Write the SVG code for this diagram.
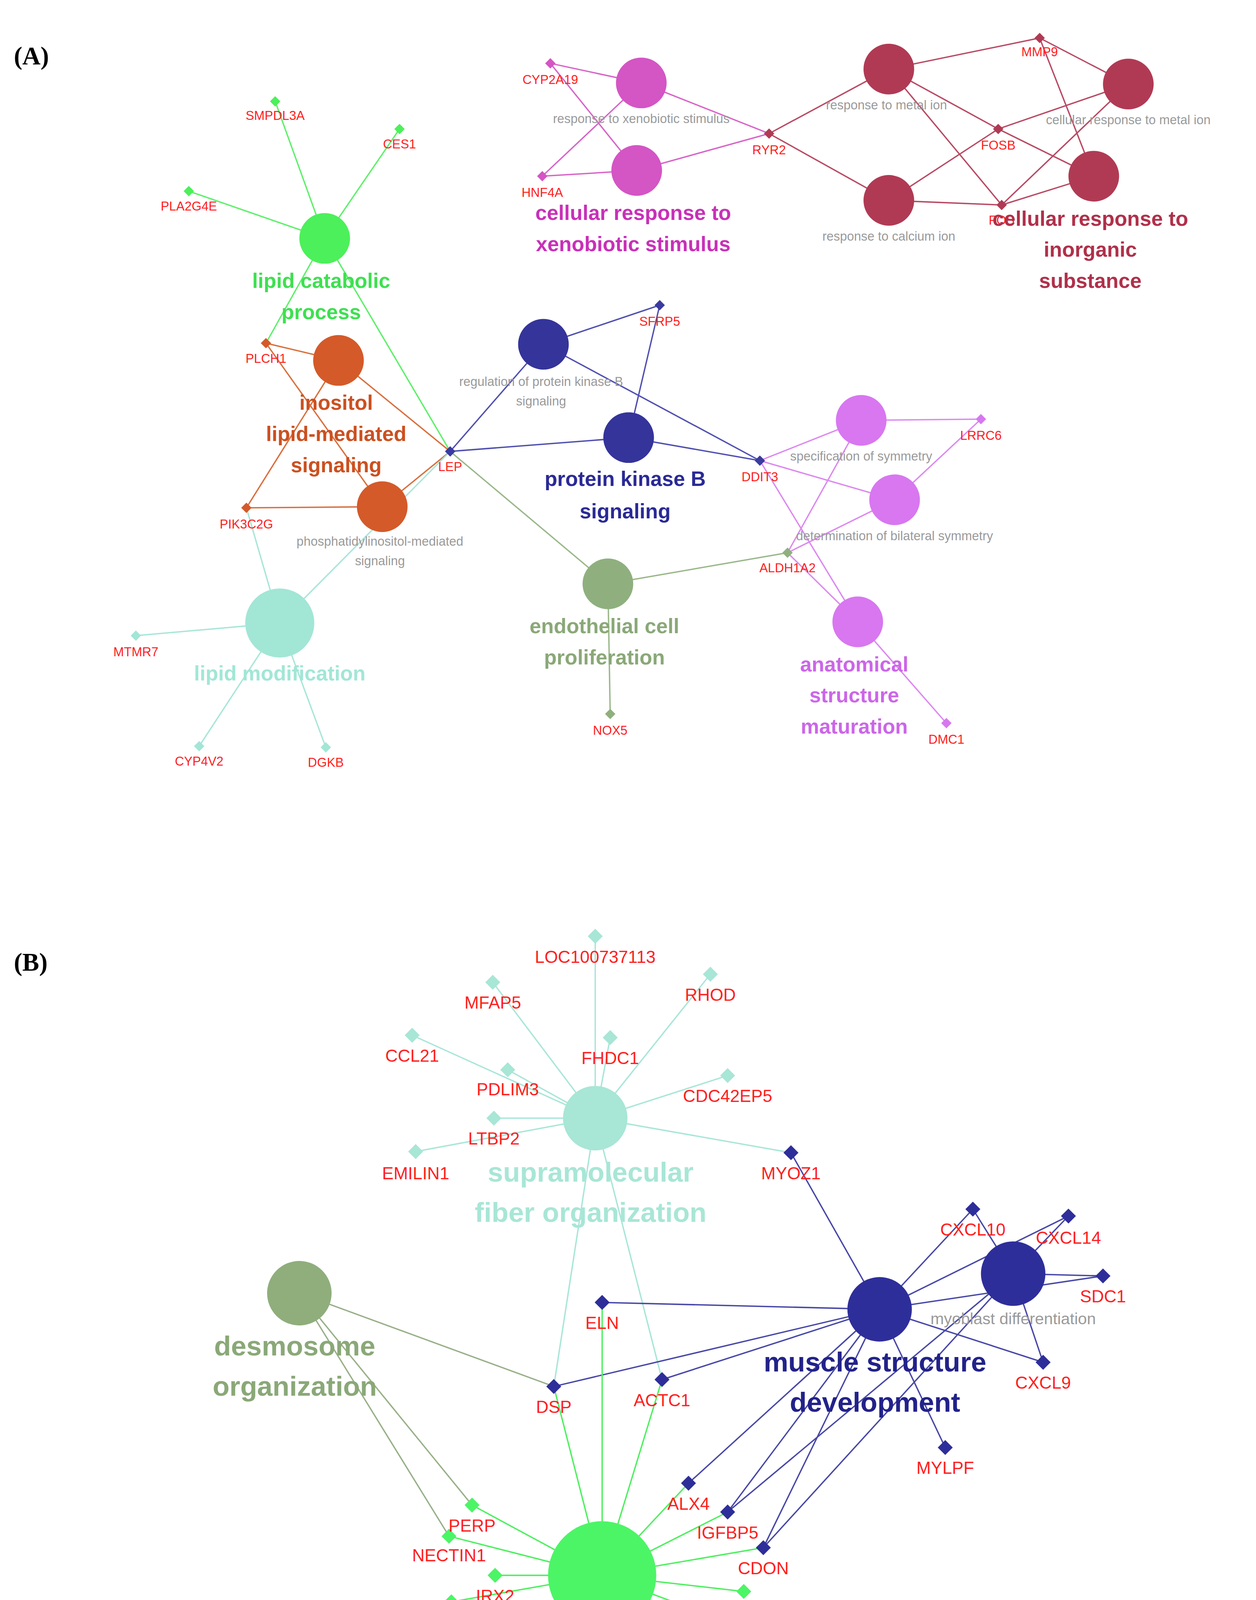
<svg xmlns="http://www.w3.org/2000/svg" xmlns:xlink="http://www.w3.org/1999/xlink" width="3216" height="4624" viewBox="0 0 3216 4624">
<style>
text{font-family:"Liberation Sans",Arial,sans-serif;text-anchor:middle}
.g{fill:#ff2020;font-size:11px}
.gb{fill:#ff2020;font-size:15px}
.s{fill:#9a9a9a;font-size:11px}
.b{font-weight:bold;font-size:18px}
.bb{font-weight:bold;font-size:24px}
.p{font-family:"Liberation Serif",serif;font-weight:bold;font-size:22px;text-anchor:start;fill:#000}
.e line{stroke-width:1.2}
</style>
<defs>
<path id="dA" d="M0,-4.5L4.5,0L0,4.5L-4.5,0Z"/>
<path id="dB" d="M0,-6.5L6.5,0L0,6.5L-6.5,0Z"/>
</defs>
<rect width="3216" height="4624" fill="#fff"/>
<g transform="scale(2.948)">
<text class="p" x="12" y="56">(A)</text>
<text class="p" x="12" y="843">(B)</text>
<g id="connectors" class="e">
<g stroke="#5ef06a"><line x1="239" y1="88" x2="282" y2="207"/><line x1="347" y1="112" x2="282" y2="207"/><line x1="164" y1="166" x2="282" y2="207"/><line x1="282" y1="207" x2="231" y2="298"/><line x1="282" y1="207" x2="391" y2="392"/></g>
<g stroke="#d9703e"><line x1="231" y1="298" x2="294" y2="313"/><line x1="231" y1="298" x2="332" y2="440"/><line x1="294" y1="313" x2="391" y2="392"/><line x1="294" y1="313" x2="214" y2="441"/><line x1="214" y1="441" x2="332" y2="440"/><line x1="332" y1="440" x2="391" y2="392"/></g>
<g stroke="#a8e6d8"><line x1="243" y1="541" x2="214" y2="441"/><line x1="243" y1="541" x2="391" y2="392"/><line x1="243" y1="541" x2="118" y2="552"/><line x1="243" y1="541" x2="173" y2="648"/><line x1="243" y1="541" x2="283" y2="649"/></g>
<g stroke="#5050b0"><line x1="391" y1="392" x2="472" y2="299"/><line x1="391" y1="392" x2="546" y2="380"/><line x1="472" y1="299" x2="573" y2="265"/><line x1="472" y1="299" x2="660" y2="400"/><line x1="546" y1="380" x2="573" y2="265"/><line x1="546" y1="380" x2="660" y2="400"/></g>
<g stroke="#9ab88a"><line x1="391" y1="392" x2="528" y2="507"/><line x1="528" y1="507" x2="684" y2="480"/><line x1="528" y1="507" x2="530" y2="620"/></g>
<g stroke="#dc8af0"><line x1="660" y1="400" x2="748" y2="365"/><line x1="660" y1="400" x2="777" y2="434"/><line x1="660" y1="400" x2="745" y2="540"/><line x1="748" y1="365" x2="852" y2="364"/><line x1="777" y1="434" x2="852" y2="364"/><line x1="684" y1="480" x2="748" y2="365"/><line x1="684" y1="480" x2="777" y2="434"/><line x1="684" y1="480" x2="745" y2="540"/><line x1="745" y1="540" x2="822" y2="628"/></g>
<g stroke="#d865c8"><line x1="478" y1="55" x2="557" y2="72"/><line x1="478" y1="55" x2="553" y2="148"/><line x1="471" y1="153" x2="557" y2="72"/><line x1="471" y1="153" x2="553" y2="148"/><line x1="557" y1="72" x2="668" y2="116"/><line x1="553" y1="148" x2="668" y2="116"/></g>
<g stroke="#b84a64"><line x1="668" y1="116" x2="772" y2="60"/><line x1="668" y1="116" x2="772" y2="174"/><line x1="772" y1="60" x2="903" y2="33"/><line x1="903" y1="33" x2="980" y2="73"/><line x1="772" y1="60" x2="867" y2="112"/><line x1="772" y1="60" x2="870" y2="178"/><line x1="772" y1="174" x2="867" y2="112"/><line x1="867" y1="112" x2="980" y2="73"/><line x1="867" y1="112" x2="950" y2="153"/><line x1="870" y1="178" x2="980" y2="73"/><line x1="870" y1="178" x2="950" y2="153"/><line x1="903" y1="33" x2="950" y2="153"/><line x1="772" y1="174" x2="870" y2="178"/></g>
<g stroke="#a8e6d8"><line x1="517" y1="971" x2="517" y2="813"/><line x1="517" y1="971" x2="428" y2="853"/><line x1="517" y1="971" x2="617" y2="846"/><line x1="517" y1="971" x2="358" y2="899"/><line x1="517" y1="971" x2="530" y2="901"/><line x1="517" y1="971" x2="441" y2="929"/><line x1="517" y1="971" x2="632" y2="934"/><line x1="517" y1="971" x2="429" y2="971"/><line x1="517" y1="971" x2="361" y2="1000"/><line x1="517" y1="971" x2="687" y2="1001"/><line x1="517" y1="971" x2="481" y2="1204"/><line x1="517" y1="971" x2="575" y2="1198"/></g>
<g stroke="#4848a8"><line x1="764" y1="1137" x2="687" y2="1001"/><line x1="764" y1="1137" x2="523" y2="1131"/><line x1="764" y1="1137" x2="481" y2="1204"/><line x1="764" y1="1137" x2="575" y2="1198"/><line x1="764" y1="1137" x2="598" y2="1288"/><line x1="764" y1="1137" x2="632" y2="1313"/><line x1="764" y1="1137" x2="663" y2="1344"/><line x1="764" y1="1137" x2="821" y2="1257"/><line x1="764" y1="1137" x2="845" y2="1050"/><line x1="764" y1="1137" x2="928" y2="1056"/><line x1="764" y1="1137" x2="958" y2="1108"/><line x1="764" y1="1137" x2="906" y2="1183"/><line x1="880" y1="1106" x2="845" y2="1050"/><line x1="880" y1="1106" x2="928" y2="1056"/><line x1="880" y1="1106" x2="958" y2="1108"/><line x1="880" y1="1106" x2="906" y2="1183"/><line x1="880" y1="1106" x2="632" y2="1313"/><line x1="880" y1="1106" x2="663" y2="1344"/></g>
<g stroke="#98b088"><line x1="260" y1="1123" x2="481" y2="1204"/><line x1="260" y1="1123" x2="410" y2="1307"/><line x1="260" y1="1123" x2="390" y2="1334"/></g>
<g stroke="#4cf05e"><line x1="523" y1="1368" x2="523" y2="1131"/><line x1="523" y1="1368" x2="481" y2="1204"/><line x1="523" y1="1368" x2="575" y2="1198"/><line x1="523" y1="1368" x2="598" y2="1288"/><line x1="523" y1="1368" x2="632" y2="1313"/><line x1="523" y1="1368" x2="663" y2="1344"/><line x1="523" y1="1368" x2="410" y2="1307"/><line x1="523" y1="1368" x2="390" y2="1334"/><line x1="523" y1="1368" x2="430" y2="1368"/><line x1="523" y1="1368" x2="392" y2="1391"/><line x1="523" y1="1368" x2="409" y2="1430"/><line x1="523" y1="1368" x2="399" y2="1478"/><line x1="523" y1="1368" x2="439" y2="1512"/><line x1="523" y1="1368" x2="485" y2="1520"/><line x1="523" y1="1368" x2="523" y2="1498"/><line x1="523" y1="1368" x2="562" y2="1529"/><line x1="523" y1="1368" x2="594" y2="1497"/><line x1="523" y1="1368" x2="632" y2="1499"/><line x1="523" y1="1368" x2="649" y2="1449"/><line x1="523" y1="1368" x2="625" y2="1406"/><line x1="523" y1="1368" x2="646" y2="1382"/></g>
</g>
<g id="panelA-genes">
<g fill="#4cf05a"><use href="#dA" x="239" y="88"/><use href="#dA" x="347" y="112"/><use href="#dA" x="164" y="166"/></g>
<g fill="#d45a2a"><use href="#dA" x="231" y="298"/><use href="#dA" x="214" y="441"/></g>
<g fill="#3a3aa0"><use href="#dA" x="391" y="392"/><use href="#dA" x="573" y="265"/><use href="#dA" x="660" y="400"/></g>
<g fill="#a2e6d6"><use href="#dA" x="118" y="552"/><use href="#dA" x="173" y="648"/><use href="#dA" x="283" y="649"/></g>
<g fill="#8fb07e"><use href="#dA" x="530" y="620"/><use href="#dA" x="684" y="480"/></g>
<g fill="#d877f0"><use href="#dA" x="852" y="364"/><use href="#dA" x="822" y="628"/></g>
<g fill="#d455c4"><use href="#dA" x="478" y="55"/><use href="#dA" x="471" y="153"/></g>
<g fill="#b03a54"><use href="#dA" x="668" y="116"/><use href="#dA" x="903" y="33"/><use href="#dA" x="867" y="112"/><use href="#dA" x="870" y="178"/></g>
<text class="g" x="239" y="104">SMPDL3A</text><text class="g" x="347" y="129">CES1</text><text class="g" x="164" y="183">PLA2G4E</text>
<text class="g" x="231" y="315">PLCH1</text><text class="g" x="214" y="459">PIK3C2G</text><text class="g" x="391" y="409">LEP</text>
<text class="g" x="118" y="570">MTMR7</text><text class="g" x="173" y="665">CYP4V2</text><text class="g" x="283" y="666">DGKB</text>
<text class="g" x="573" y="283">SFRP5</text><text class="g" x="660" y="418">DDIT3</text><text class="g" x="530" y="638">NOX5</text>
<text class="g" x="684" y="497">ALDH1A2</text><text class="g" x="852" y="382">LRRC6</text><text class="g" x="822" y="646">DMC1</text>
<text class="g" x="478" y="73">CYP2A19</text><text class="g" x="471" y="171">HNF4A</text><text class="g" x="668" y="134">RYR2</text>
<text class="g" x="903" y="49">MMP9</text><text class="g" x="867" y="130">FOSB</text><text class="g" x="870" y="195">FOS</text>
</g>
<g id="lipid-catabolic"><circle cx="282" cy="207" r="22" fill="#4cf05a"/><text class="b" fill="#3ee050" x="279" y="250">lipid catabolic</text><text class="b" fill="#3ee050" x="279" y="277">process</text></g>
<g id="inositol"><circle cx="294" cy="313" r="22" fill="#d45a2a"/><text class="b" fill="#cc5020" x="292" y="356">inositol</text><text class="b" fill="#cc5020" x="292" y="383">lipid-mediated</text><text class="b" fill="#cc5020" x="292" y="410">signaling</text></g>
<g id="phosphatidylinositol"><circle cx="332" cy="440" r="22" fill="#d45a2a"/><text class="s" x="330" y="474">phosphatidylinositol-mediated</text><text class="s" x="330" y="491">signaling</text></g>
<g id="lipid-modification"><circle cx="243" cy="541" r="30" fill="#a2e6d6"/><text class="b" fill="#a2e6d6" x="243" y="591">lipid modification</text></g>
<g id="reg-pkb"><circle cx="472" cy="299" r="22" fill="#34349a"/><text class="s" x="470" y="335">regulation of protein kinase B</text><text class="s" x="470" y="352">signaling</text></g>
<g id="pkb"><circle cx="546" cy="380" r="22" fill="#34349a"/><text class="b" fill="#2a2a96" x="543" y="422">protein kinase B</text><text class="b" fill="#2a2a96" x="543" y="450">signaling</text></g>
<g id="endothelial"><circle cx="528" cy="507" r="22" fill="#8fb07e"/><text class="b" fill="#8aa878" x="525" y="550">endothelial cell</text><text class="b" fill="#8aa878" x="525" y="577">proliferation</text></g>
<g id="spec-symmetry"><circle cx="748" cy="365" r="22" fill="#d877f0"/><text class="s" x="748" y="400">specification of symmetry</text></g>
<g id="bilateral"><circle cx="777" cy="434" r="22" fill="#d877f0"/><text class="s" x="777" y="469">determination of bilateral symmetry</text></g>
<g id="anatomical"><circle cx="745" cy="540" r="22" fill="#d877f0"/><text class="b" fill="#cc66e8" x="742" y="583">anatomical</text><text class="b" fill="#cc66e8" x="742" y="610">structure</text><text class="b" fill="#cc66e8" x="742" y="637">maturation</text></g>
<g id="xeno1"><circle cx="557" cy="72" r="22" fill="#d455c4"/><text class="s" x="557" y="107">response to xenobiotic stimulus</text></g>
<g id="xeno2"><circle cx="553" cy="148" r="22" fill="#d455c4"/><text class="b" fill="#c830b8" x="550" y="191">cellular response to</text><text class="b" fill="#c830b8" x="550" y="218">xenobiotic stimulus</text></g>
<g id="metal1"><circle cx="772" cy="60" r="22" fill="#b03a54"/><text class="s" x="770" y="95">response to metal ion</text></g>
<g id="metal2"><circle cx="980" cy="73" r="22" fill="#b03a54"/><text class="s" x="980" y="108">cellular response to metal ion</text></g>
<g id="calcium"><circle cx="772" cy="174" r="22" fill="#b03a54"/><text class="s" x="772" y="209">response to calcium ion</text></g>
<g id="inorganic"><circle cx="950" cy="153" r="22" fill="#b03a54"/><text class="b" fill="#b0304a" x="947" y="196">cellular response to</text><text class="b" fill="#b0304a" x="947" y="223">inorganic</text><text class="b" fill="#b0304a" x="947" y="250">substance</text></g>
<g id="panelB-genes">
<g fill="#a8e6d6"><use href="#dB" x="517" y="813"/><use href="#dB" x="428" y="853"/><use href="#dB" x="617" y="846"/><use href="#dB" x="358" y="899"/><use href="#dB" x="530" y="901"/><use href="#dB" x="441" y="929"/><use href="#dB" x="632" y="934"/><use href="#dB" x="429" y="971"/><use href="#dB" x="361" y="1000"/></g>
<g fill="#2e2e9a"><use href="#dB" x="687" y="1001"/><use href="#dB" x="845" y="1050"/><use href="#dB" x="928" y="1056"/><use href="#dB" x="958" y="1108"/><use href="#dB" x="906" y="1183"/><use href="#dB" x="821" y="1257"/><use href="#dB" x="523" y="1131"/><use href="#dB" x="481" y="1204"/><use href="#dB" x="575" y="1198"/><use href="#dB" x="598" y="1288"/><use href="#dB" x="632" y="1313"/><use href="#dB" x="663" y="1344"/></g>
<g fill="#4cf566"><use href="#dB" x="410" y="1307"/><use href="#dB" x="390" y="1334"/><use href="#dB" x="430" y="1368"/><use href="#dB" x="392" y="1391"/><use href="#dB" x="646" y="1382"/><use href="#dB" x="409" y="1430"/><use href="#dB" x="625" y="1406"/><use href="#dB" x="649" y="1449"/><use href="#dB" x="399" y="1478"/><use href="#dB" x="439" y="1512"/><use href="#dB" x="485" y="1520"/><use href="#dB" x="523" y="1498"/><use href="#dB" x="594" y="1497"/><use href="#dB" x="632" y="1499"/><use href="#dB" x="562" y="1529"/></g>
<text class="gb" x="517" y="836">LOC100737113</text><text class="gb" x="428" y="876">MFAP5</text><text class="gb" x="617" y="869">RHOD</text><text class="gb" x="358" y="922">CCL21</text><text class="gb" x="530" y="924">FHDC1</text><text class="gb" x="441" y="951">PDLIM3</text><text class="gb" x="632" y="957">CDC42EP5</text><text class="gb" x="429" y="994">LTBP2</text><text class="gb" x="361" y="1024">EMILIN1</text><text class="gb" x="687" y="1024">MYOZ1</text>
<text class="gb" x="845" y="1073">CXCL10</text><text class="gb" x="928" y="1080">CXCL14</text><text class="gb" x="958" y="1131">SDC1</text><text class="gb" x="906" y="1206">CXCL9</text><text class="gb" x="821" y="1280">MYLPF</text>
<text class="gb" x="523" y="1154">ELN</text><text class="gb" x="481" y="1227">DSP</text><text class="gb" x="575" y="1221">ACTC1</text>
<text class="gb" x="598" y="1311">ALX4</text><text class="gb" x="632" y="1336">IGFBP5</text><text class="gb" x="663" y="1367">CDON</text><text class="gb" x="410" y="1330">PERP</text><text class="gb" x="390" y="1356">NECTIN1</text><text class="gb" x="430" y="1391">IRX2</text><text class="gb" x="392" y="1414">COL8A1</text><text class="gb" x="646" y="1404">IRX1</text><text class="gb" x="409" y="1453">TNC</text><text class="gb" x="625" y="1429">VDR</text><text class="gb" x="649" y="1472">SLC6A4</text><text class="gb" x="399" y="1501">FBN2</text><text class="gb" x="439" y="1535">ESR1</text><text class="gb" x="485" y="1543">MATN4</text><text class="gb" x="523" y="1521">CPE</text><text class="gb" x="594" y="1519">IRX5</text><text class="gb" x="632" y="1522">MFAP2</text><text class="gb" x="562" y="1552">PTK7</text>
</g>
<g id="supramolecular"><circle cx="517" cy="971" r="28" fill="#a8e6d6"/><text class="bb" fill="#a8e6d6" x="513" y="1026">supramolecular</text><text class="bb" fill="#a8e6d6" x="513" y="1061">fiber organization</text></g>
<g id="desmosome"><circle cx="260" cy="1123" r="28" fill="#8fae7c"/><text class="bb" fill="#8aa878" x="256" y="1177">desmosome</text><text class="bb" fill="#8aa878" x="256" y="1212">organization</text></g>
<g id="muscle"><circle cx="764" cy="1137" r="28" fill="#2e2e9a"/><text class="bb" fill="#22228a" x="760" y="1191">muscle structure</text><text class="bb" fill="#22228a" x="760" y="1226">development</text></g>
<g id="myoblast"><circle cx="880" cy="1106" r="28" fill="#2e2e9a"/><text class="s" style="font-size:14px" x="880" y="1150">myoblast differentiation</text></g>
<g id="animal"><circle cx="523" cy="1368" r="47" fill="#4cf566"/><text class="bb" fill="#3ee055" x="520" y="1441">animal organ</text><text class="bb" fill="#3ee055" x="520" y="1476">morphogenesis</text></g>
</g>
</svg>
